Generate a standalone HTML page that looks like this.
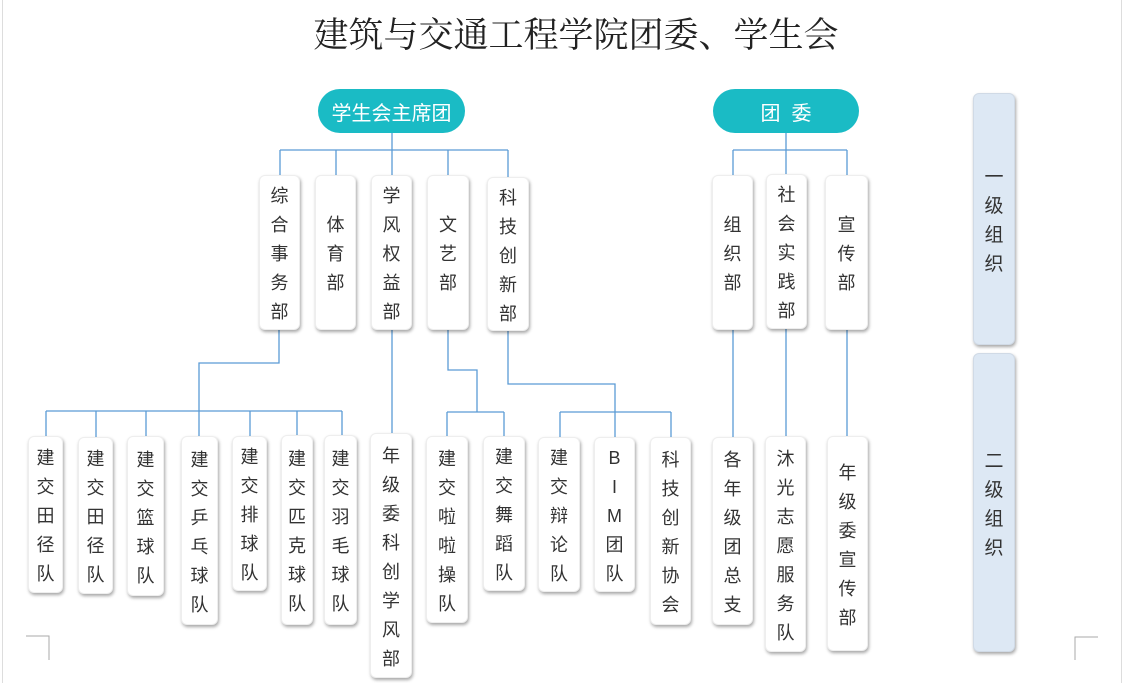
<!DOCTYPE html>
<html><head><meta charset="utf-8">
<style>
body{margin:0;width:1124px;height:683px;background:#fff;position:relative;overflow:hidden;font-family:"Liberation Sans","Noto Sans CJK SC",sans-serif;}
.t{position:absolute;left:14px;width:1124px;top:8px;text-align:center;font-family:"Liberation Serif","Noto Serif CJK SC",serif;font-size:35px;color:#222;}
.pill{position:absolute;background:#1ABBC5;color:#fff;border-radius:23px;display:flex;align-items:center;justify-content:center;font-size:20px;}
.b{position:absolute;background:#fff;border-radius:6px;box-shadow:1px 2px 3px rgba(0,0,0,.35);display:flex;flex-direction:column;align-items:center;justify-content:center;font-size:18px;color:#333;line-height:29px;box-sizing:border-box;border:1px solid #eee;padding-top:4px;}
.s{background:#DDE8F4;border:1px solid #d0dae6;font-size:19px;}
svg{position:absolute;left:0;top:0;}
</style></head><body>
<svg width="1124" height="683">
<g stroke="#5B9BD5" stroke-width="1.3" fill="none">
<path d="M392 133V150M280 150H508M280 150V175M336 150V175M392 150V175M448 150V175M508 150V177"/>
<path d="M786 133V150M733 150H847M733 150V175M786 150V174M847 150V175"/>
<path d="M279 330V363H199V411M46 411H342M46 411V436M96 411V437M146 411V436M199 411V436M250 411V436M297 411V435M342 411V435"/>
<path d="M392 330V433"/>
<path d="M448 330V370H477V412M447 412H504M447 412V436M504 412V436"/>
<path d="M508 331V384H615V437M560 412H671M560 412V437M671 412V437"/>
<path d="M733 330V437M786 329V436M847 330V436"/>
</g>
<g stroke="#aaa" stroke-width="1" fill="none">
<path d="M26 636H49V660M1098 637H1075V660"/>
<path d="M2.5 0V683M1121.5 0V683" stroke="#ddd"/>
</g>
</svg>
<div class="t">建筑与交通工程学院团委、学生会</div>
<div class="pill" style="left:318px;top:89px;width:147px;height:44px;">学生会主席团</div>
<div class="pill" style="left:713px;top:89px;width:146px;height:44px;">团&nbsp;&nbsp;委</div>

<div class="b" style="left:259px;top:175px;width:41px;height:155px;"><div>综</div><div>合</div><div>事</div><div>务</div><div>部</div></div>
<div class="b" style="left:315px;top:175px;width:41px;height:155px;"><div>体</div><div>育</div><div>部</div></div>
<div class="b" style="left:371px;top:175px;width:41px;height:155px;"><div>学</div><div>风</div><div>权</div><div>益</div><div>部</div></div>
<div class="b" style="left:427px;top:175px;width:42px;height:155px;"><div>文</div><div>艺</div><div>部</div></div>
<div class="b" style="left:487px;top:177px;width:42px;height:154px;"><div>科</div><div>技</div><div>创</div><div>新</div><div>部</div></div>
<div class="b" style="left:712px;top:175px;width:41px;height:155px;"><div>组</div><div>织</div><div>部</div></div>
<div class="b" style="left:766px;top:174px;width:41px;height:155px;"><div>社</div><div>会</div><div>实</div><div>践</div><div>部</div></div>
<div class="b" style="left:825px;top:175px;width:43px;height:155px;"><div>宣</div><div>传</div><div>部</div></div>

<div class="b" style="left:28px;top:436px;width:35px;height:157px;"><div>建</div><div>交</div><div>田</div><div>径</div><div>队</div></div>
<div class="b" style="left:78px;top:437px;width:35px;height:157px;"><div>建</div><div>交</div><div>田</div><div>径</div><div>队</div></div>
<div class="b" style="left:127px;top:436px;width:37px;height:160px;"><div>建</div><div>交</div><div>篮</div><div>球</div><div>队</div></div>
<div class="b" style="left:181px;top:436px;width:37px;height:189px;"><div>建</div><div>交</div><div>乒</div><div>乓</div><div>球</div><div>队</div></div>
<div class="b" style="left:232px;top:436px;width:35px;height:155px;"><div>建</div><div>交</div><div>排</div><div>球</div><div>队</div></div>
<div class="b" style="left:281px;top:435px;width:32px;height:190px;"><div>建</div><div>交</div><div>匹</div><div>克</div><div>球</div><div>队</div></div>
<div class="b" style="left:324px;top:435px;width:33px;height:190px;"><div>建</div><div>交</div><div>羽</div><div>毛</div><div>球</div><div>队</div></div>
<div class="b" style="left:370px;top:433px;width:42px;height:245px;"><div>年</div><div>级</div><div>委</div><div>科</div><div>创</div><div>学</div><div>风</div><div>部</div></div>
<div class="b" style="left:426px;top:436px;width:42px;height:187px;"><div>建</div><div>交</div><div>啦</div><div>啦</div><div>操</div><div>队</div></div>
<div class="b" style="left:483px;top:436px;width:42px;height:155px;"><div>建</div><div>交</div><div>舞</div><div>蹈</div><div>队</div></div>
<div class="b" style="left:538px;top:437px;width:42px;height:155px;"><div>建</div><div>交</div><div>辩</div><div>论</div><div>队</div></div>
<div class="b" style="left:594px;top:437px;width:41px;height:155px;"><div>B</div><div>I</div><div>M</div><div>团</div><div>队</div></div>
<div class="b" style="left:650px;top:437px;width:41px;height:188px;"><div>科</div><div>技</div><div>创</div><div>新</div><div>协</div><div>会</div></div>
<div class="b" style="left:712px;top:437px;width:41px;height:188px;"><div>各</div><div>年</div><div>级</div><div>团</div><div>总</div><div>支</div></div>
<div class="b" style="left:765px;top:436px;width:41px;height:216px;"><div>沐</div><div>光</div><div>志</div><div>愿</div><div>服</div><div>务</div><div>队</div></div>
<div class="b" style="left:827px;top:436px;width:41px;height:215px;"><div>年</div><div>级</div><div>委</div><div>宣</div><div>传</div><div>部</div></div>

<div class="b s" style="left:973px;top:93px;width:42px;height:252px;"><div>一</div><div>级</div><div>组</div><div>织</div></div>
<div class="b s" style="left:973px;top:353px;width:42px;height:299px;"><div>二</div><div>级</div><div>组</div><div>织</div></div>
</body></html>
